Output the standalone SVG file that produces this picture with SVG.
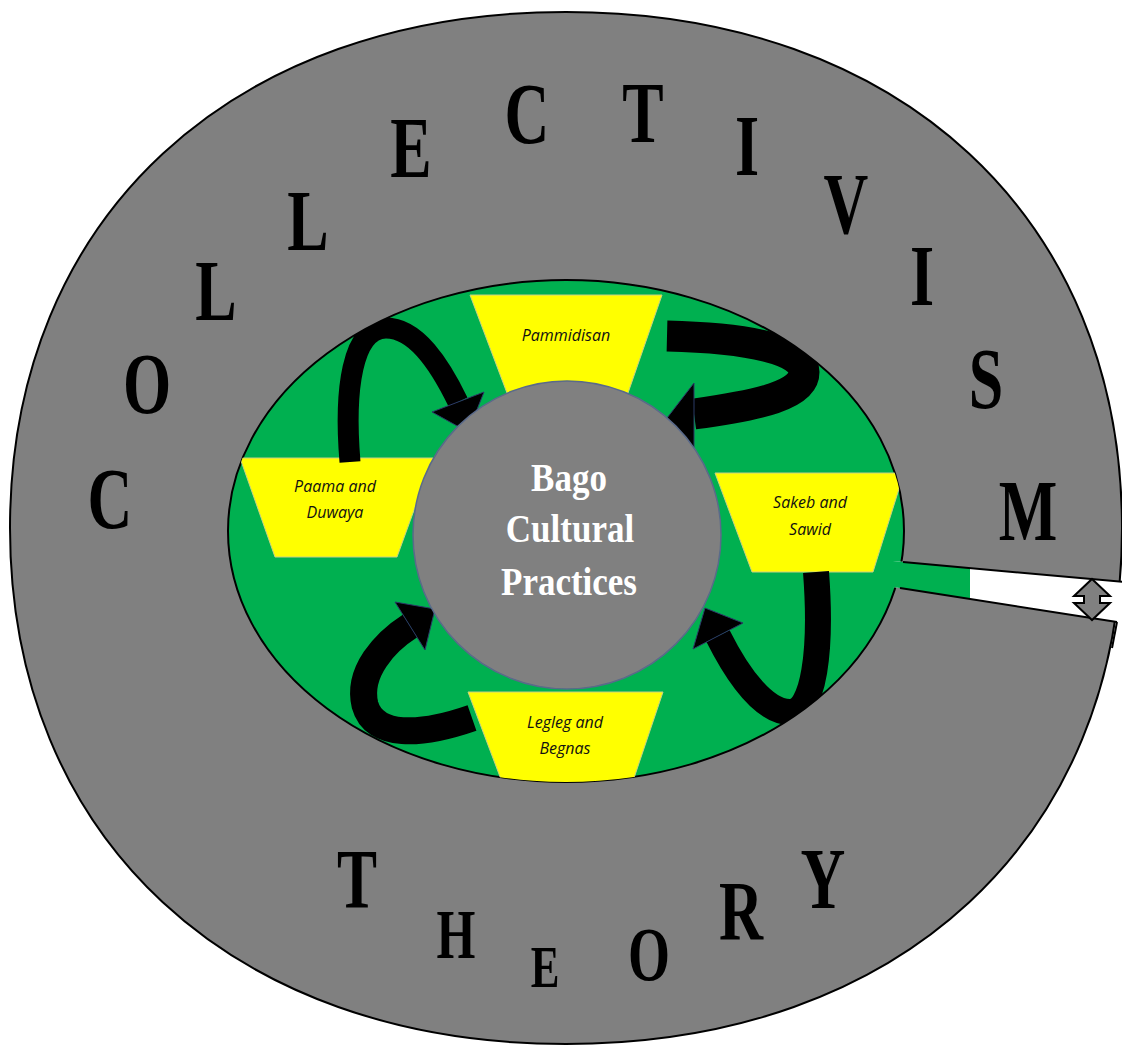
<svg xmlns="http://www.w3.org/2000/svg" width="1122" height="1047" viewBox="0 0 1122 1047">
<style>
.big{font-family:"Liberation Serif",serif;font-weight:bold;font-size:62px;fill:#000;text-anchor:middle}
.lab{font-family:"Open Sans",sans-serif;font-style:italic;font-size:16px;fill:#111;text-anchor:middle}
.core{font-family:"Liberation Serif",serif;font-weight:bold;font-size:35px;fill:#fff;text-anchor:middle}
.trap{fill:#ffff00;stroke:#c8cf86;stroke-width:1}
.shaft{fill:none;stroke:#000;stroke-linecap:butt}
.head{fill:#000;stroke:#2b3a67;stroke-width:1}
</style>
<defs>
<clipPath id="ell"><ellipse cx="566" cy="531" rx="338" ry="251"/></clipPath>
</defs>
<rect width="1122" height="1047" fill="#fff"/>
<g id="outer">
<path d="M 1122 528 C 1122 838 900 1044 566 1044 C 232 1044 10 838 10 528 C 10 218 232 12 566 12 C 900 12 1122 218 1122 528 Z" fill="#808080" stroke="#000" stroke-width="2"/>
</g>
<g id="green-ring">
<ellipse cx="566" cy="531" rx="338" ry="251" fill="#00b050" stroke="#000" stroke-width="2"/>
</g>
<g id="channel">
<polygon points="893,561 1124,582 1124,626 1117,622 893,587" fill="#fff"/>
<polygon points="893,561 970,568 970,599 893,587" fill="#00b050"/>
<line x1="903" y1="562" x2="1124" y2="582" stroke="#000" stroke-width="2"/>
<line x1="900" y1="588" x2="1117" y2="622" stroke="#000" stroke-width="2"/>
<line x1="1117" y1="622" x2="1112" y2="648" stroke="#000" stroke-width="2"/>
<polygon points="1092,579 1110,596 1100,596 1100,603 1110,603 1092,620 1074,603 1084,603 1084,596 1074,596" fill="#808080" stroke="#000" stroke-width="2"/>
</g>
<g id="node-pammidisan" clip-path="url(#ell)">
<polygon class="trap" points="470,295 662,295 628,393 507,393"/>
<text class="lab" x="566" y="341">Pammidisan</text>
</g>
<g id="node-paama" clip-path="url(#ell)">
<polygon class="trap" points="240,458 433,458 397,557 275,557"/>
<text class="lab" x="335" y="492">Paama and</text>
<text class="lab" x="335" y="518">Duwaya</text>
</g>
<g id="node-sakeb" clip-path="url(#ell)">
<polygon class="trap" points="715,473 904,473 873,572 752,572"/>
<text class="lab" x="810" y="508">Sakeb and</text>
<text class="lab" x="810" y="535">Sawid</text>
</g>
<g id="node-legleg" clip-path="url(#ell)">
<polygon class="trap" points="468,692 663,692 630,790 505,790"/>
<text class="lab" x="565" y="728">Legleg and</text>
<text class="lab" x="565" y="754">Begnas</text>
</g>
<g id="connectors" clip-path="url(#ell)">
<path class="shaft" stroke-width="21" d="M 350 462 C 344 390 352 328 386 328 C 416 328 440 365 458 402"/>
<polygon class="head" points="432,412 484,392 468,432"/>
<path class="shaft" stroke-width="31" d="M 667 336 C 750 338 804 350 804 372 C 804 395 760 405 694 414"/>
<polygon class="head" points="694,383 694,452 667,418"/>
<path class="shaft" stroke-width="26" d="M 816 572 C 822 650 814 712 790 712 C 766 712 740 680 718 636"/>
<polygon class="head" points="693,649 743,623 705,608"/>
<path class="shaft" stroke-width="27" d="M 472 718 C 420 736 374 738 365 705 C 357 672 385 642 410 626"/>
<polygon class="head" points="395,602 425,650 435,609"/>
</g>
<g id="core">
<circle cx="567" cy="535" r="154" fill="#808080" stroke="#5a6a8a" stroke-width="1.5"/>
<text class="core" transform="translate(569 491) scale(1 1.15)">Bago</text>
<text class="core" transform="translate(570 542) scale(1 1.15)">Cultural</text>
<text class="core" transform="translate(569 595) scale(1 1.15)">Practices</text>
</g>
<g id="title-collectivism">
<text class="big" transform="translate(110 528) scale(1 1.4)">C</text>
<text class="big" transform="translate(147 413) scale(1 1.4)">O</text>
<text class="big" transform="translate(216 320) scale(1 1.4)">L</text>
<text class="big" transform="translate(308 250) scale(1 1.4)">L</text>
<text class="big" transform="translate(411 177) scale(1 1.4)">E</text>
<text class="big" transform="translate(527 143) scale(1 1.4)">C</text>
<text class="big" transform="translate(643 142) scale(1 1.4)">T</text>
<text class="big" transform="translate(747 175) scale(1 1.4)">I</text>
<text class="big" transform="translate(846 233) scale(1 1.4)">V</text>
<text class="big" transform="translate(922 305) scale(1 1.4)">I</text>
<text class="big" transform="translate(986 408) scale(1 1.4)">S</text>
<text class="big" transform="translate(1028 540) scale(1 1.4)">M</text>
</g>
<g id="title-theory">
<text class="big" style="font-size:60px" transform="translate(357 908) scale(1 1.4)">T</text>
<text class="big" style="font-size:50px" transform="translate(456 958) scale(1 1.4)">H</text>
<text class="big" style="font-size:43px" transform="translate(545 987) scale(1 1.4)">E</text>
<text class="big" style="font-size:54px" transform="translate(649 980) scale(1 1.4)">O</text>
<text class="big" style="font-size:61px" transform="translate(741 940) scale(1 1.4)">R</text>
<text class="big" style="font-size:62px" transform="translate(823 908) scale(1 1.4)">Y</text>
</g>
</svg>
